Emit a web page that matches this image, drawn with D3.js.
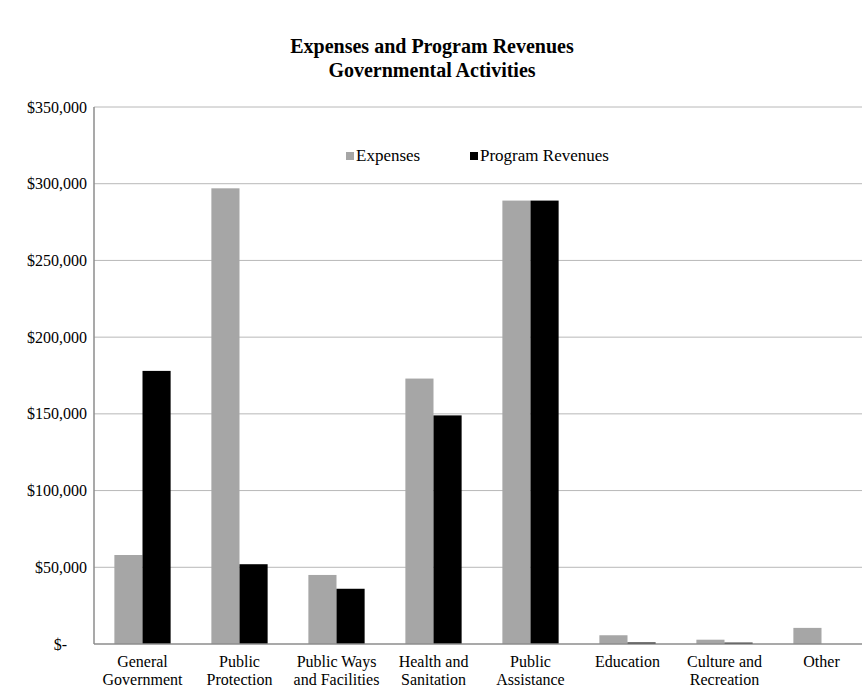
<!DOCTYPE html>
<meta charset="utf-8">
<body>
	<svg id="chart"></svg>
</body>
<script src="https://d3js.org/d3.v7.min.js"></script>
<script>

	// categories along the x axis, each label split in lines
	var categories = ["General Government", "Public Protection", "Public Ways and Facilities", "Health and Sanitation",
		"Public Assistance", "Education", "Culture and Recreation", "Other"];
	var tickLines = [["General", "Government"], ["Public", "Protection"], ["Public Ways", "and Facilities"], ["Health and", "Sanitation"],
		["Public", "Assistance"], ["Education"], ["Culture and", "Recreation"], ["Other"]];

	// series values (dollars)
	var expenses = [58000, 297000, 45000, 173000, 289000, 5700, 2800, 10500];
	var programRevenues = [178000, 52000, 36000, 149000, 289000, 1000, 900, 0];

	var seriesNames = ["Expenses", "Program Revenues"];
	var yTicks = [0, 50000, 100000, 150000, 200000, 250000, 300000, 350000];

	var width = 862,
		height = 687;

	var svg = d3.select("#chart")
		.attr("width", width)
		.attr("height", height);

	var x = d3.scaleBand()
		.domain(categories)
		.range([94, 870])
		.paddingInner(0.42)
		.paddingOuter(0.21);

	var xs = d3.scaleBand()
		.domain(seriesNames)
		.range([0, x.bandwidth()]);

	var y = d3.scaleLinear()
		.domain([0, 350000])
		.range([644, 107]);

	var color = d3.scaleOrdinal()
		.domain(seriesNames)
		.range(["#a6a6a6", "#000000"]);

	// title
	var title = svg.append("text")
		.attr("class", "title")
		.attr("x", 432)
		.attr("y", 53)
		.attr("text-anchor", "middle");
	title.append("tspan").attr("x", 432).text("Expenses and Program Revenues");
	title.append("tspan").attr("x", 432).attr("dy", 24).text("Governmental Activities");

	// gridlines
	svg.append("g")
		.attr("class", "grid")
		.selectAll("line")
		.data(yTicks.slice(1))
		.enter().append("line")
		.attr("x1", 94).attr("x2", width)
		.attr("y1", d => y(d)).attr("y2", d => y(d));

	// y axis
	var yAxis = svg.append("g")
		.attr("class", "axis")
		.attr("transform", "translate(94,0)")
		.call(d3.axisLeft(y).tickValues(yTicks).tickSize(0).tickPadding(7)
			.tickFormat(d => d === 0 ? "$-" : "$" + d3.format(",")(d)));
	yAxis.select(".domain").remove();
	yAxis.selectAll(".tick text").filter(d => d === 0).attr("dx", -20);

	var rows = categories.map((c, i) => ({cat: c, values: [
		{name: seriesNames[0], value: expenses[i]},
		{name: seriesNames[1], value: programRevenues[i]}
	]}));

	// bars
	svg.append("g")
		.selectAll("g")
		.data(rows)
		.enter().append("g")
		.attr("transform", d => "translate(" + x(d.cat) + ",0)")
		.selectAll("rect")
		.data(d => d.values)
		.enter().append("rect")
		.attr("x", d => xs(d.name))
		.attr("width", xs.bandwidth())
		.attr("y", d => y(d.value))
		.attr("height", d => y(0) - y(d.value))
		.attr("fill", d => color(d.name));

	// axis lines
	svg.append("line").attr("class", "axisline")
		.attr("x1", 94).attr("x2", 94).attr("y1", 107).attr("y2", 644);
	svg.append("line").attr("class", "axisline")
		.attr("x1", 94).attr("x2", width).attr("y1", 644).attr("y2", 644);

	// x labels
	var xl = svg.append("g").attr("class", "xlabels")
		.selectAll("text")
		.data(categories)
		.enter().append("text")
		.attr("text-anchor", "middle")
		.attr("y", 667);
	xl.selectAll("tspan")
		.data((d, i) => tickLines[i].map(t => ({t: t, c: d})))
		.enter().append("tspan")
		.attr("x", d => x(d.c) + x.bandwidth() / 2)
		.attr("dy", (d, i) => i ? 18 : 0)
		.text(d => d.t);

	// legend
	var legendX = [346, 470];
	var legend = svg.append("g").attr("class", "legend")
		.selectAll("g")
		.data(seriesNames)
		.enter().append("g")
		.attr("transform", (d, i) => "translate(" + legendX[i] + ",157)");
	legend.append("rect")
		.attr("x", 0).attr("y", -5)
		.attr("width", 8).attr("height", 8)
		.attr("fill", d => color(d));
	legend.append("text")
		.attr("x", 10).attr("y", 4)
		.text(d => d);

</script>
<style>
	body {
		margin: 0;
		background: #fff;
	}
	svg {
		display: block;
		font-family: "Liberation Serif", "Times New Roman", serif;
	}
	.title {
		font-size: 20px;
		font-weight: bold;
		fill: #000;
	}
	.grid line {
		stroke: #b8b8b8;
		stroke-width: 1px;
	}
	.axisline {
		stroke: #8c8c8c;
		stroke-width: 1.5px;
	}
	.axis text {
		font-family: "Liberation Serif", "Times New Roman", serif;
		font-size: 16px;
		fill: #000;
	}
	.xlabels text {
		font-size: 16px;
		fill: #000;
	}
	.legend text {
		font-size: 17px;
		fill: #000;
	}
</style>
</html>
